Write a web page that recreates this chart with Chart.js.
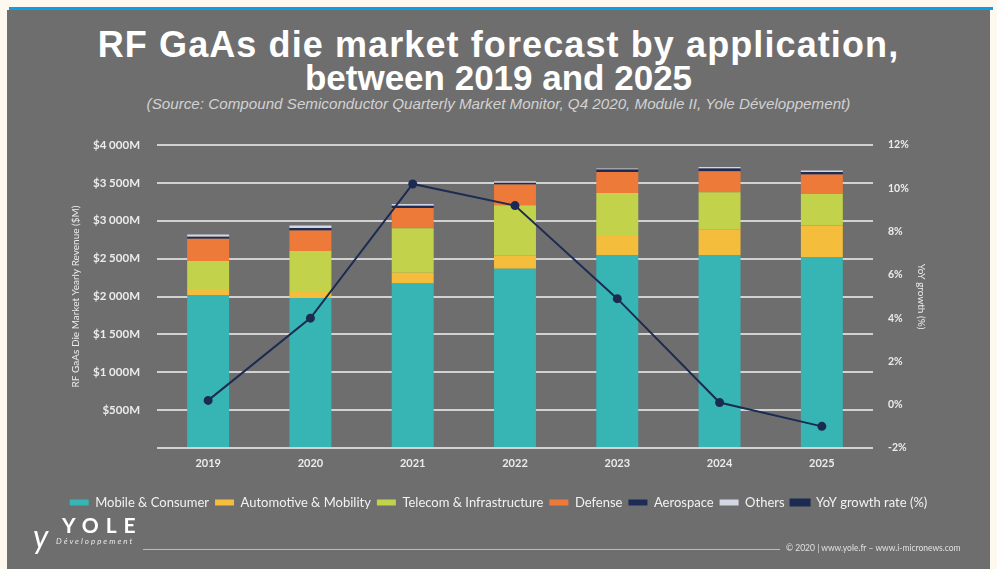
<!DOCTYPE html>
<html>
<head>
<meta charset="utf-8">
<script src="https://cdn.jsdelivr.net/npm/chart.js@4"></script>
<style>
  html, body { margin: 0; padding: 0; }
  body { width: 997px; height: 569px; background: #fdf9ee; position: relative; overflow: hidden; font-family: Lato, sans-serif; }
  #topline { position: absolute; left: 9px; top: 7px; width: 984px; height: 3px; background: #0aa0e6; }
  #panel { position: absolute; left: 7px; top: 10px; width: 983px; height: 559px; background: #6e6e6e; }
  #title { position: absolute; left: 0; top: 28px; width: 997px; text-align: center; color: #fff; font-family: 'Liberation Sans', Arial, sans-serif; font-weight: bold; line-height: 33px; }
  #title .l1 { font-size: 36px; letter-spacing: 1.1px; display: block; }
  #title .l2 { font-size: 35px; display: block; }
  #subtitle { position: absolute; left: 0; top: 95px; width: 997px; text-align: center; color: #d2d2d2; font-family: 'Liberation Sans', Arial, sans-serif; font-style: italic; font-size: 15.2px; }
  #chart { position: absolute; left: 0; top: 0; }
  #footline { position: absolute; left: 143px; top: 549px; width: 637px; height: 1px; background: #bdbdbd; }
  #copy { position: absolute; left: 786px; top: 543px; color: #e0e0e0; font-size: 8.5px; }
  #logo { position: absolute; left: 62px; top: 512px; color: #fff; font-weight: bold; font-size: 21px; letter-spacing: 7px; }
  #logo2 { position: absolute; left: 56px; top: 536px; color: #e8e8e8; font-style: italic; font-size: 8px; letter-spacing: 2px; }
  #logoy { position: absolute; left: 33px; top: 516px; color: #fff; font-size: 32px; font-style: italic; }
</style>
</head>
<body>
<div id="topline"></div>
<div id="panel"></div>
<div id="title"><span class="l1">RF GaAs die market forecast by application,</span><span class="l2">between 2019 and 2025</span></div>
<div id="subtitle">(Source: Compound Semiconductor Quarterly Market Monitor, Q4 2020, Module II, Yole Développement)</div>
<canvas id="chart" width="997" height="569"></canvas>
<div id="footline"></div>
<div id="copy">© 2020 | www.yole.fr – www.i-micronews.com</div>
<div id="logoy">y</div>
<div id="logo">YOLE</div>
<div id="logo2">Développement</div>
<script>
const years = ['2019', '2020', '2021', '2022', '2023', '2024', '2025']
// revenue in $M
const mobile = [2020, 1980, 2170, 2365, 2547, 2547, 2521]
const automotive = [65, 80, 142, 173, 253, 333, 416]
const telecom = [382, 541, 589, 665, 566, 495, 416]
const defense = [296, 269, 266, 275, 279, 279, 258]
const aerospace = [27, 34, 32, 24, 32, 36, 34]
const others = [30, 33, 21, 20, 13, 18, 19]
// YoY growth in %
const growth = [0.2, 4.0, 10.2, 9.2, 4.9, 0.1, -1.0]

const tickColor = '#ececec'

function bar (label, data, color) {
  return {
    type: 'bar',
    label,
    data,
    backgroundColor: color,
    borderWidth: 0,
    yAxisID: 'y',
    barPercentage: 0.41,
    categoryPercentage: 1
  }
}

new Chart(document.getElementById('chart'), {
  data: {
    labels: years,
    datasets: [
      bar('Mobile & Consumer', mobile, '#36b5b4'),
      bar('Automotive & Mobility', automotive, '#f5bd3c'),
      bar('Telecom & Infrastructure', telecom, '#c3d24b'),
      bar('Defense', defense, '#ee7a3a'),
      bar('Aerospace', aerospace, '#1e2b57'),
      bar('Others', others, '#d3d7e4'),
      {
        type: 'line',
        label: 'YoY growth rate (%)',
        data: growth,
        yAxisID: 'y1',
        order: -1,
        borderColor: '#1b2b52',
        backgroundColor: '#1b2b52',
        borderWidth: 2,
        pointRadius: 3.5,
        pointBackgroundColor: '#1b2b52',
        tension: 0
      }
    ]
  },
  options: {
    responsive: false,
    animation: false,
    layout: { padding: { left: 60, right: 60, top: 145, bottom: 50 } },
    plugins: {
      tooltip: { enabled: false },
      legend: {
        position: 'bottom',
        labels: {
          color: '#f2f2f2',
          font: { family: 'Lato', size: 13 },
          boxWidth: 19,
          boxHeight: 6,
          padding: 6,
          sort: (a, b) => a.datasetIndex - b.datasetIndex
        }
      }
    },
    scales: {
      x: {
        stacked: true,
        grid: { display: false },
        border: { display: false },
        ticks: { color: tickColor, font: { family: 'Lato', size: 11, weight: 'bold' }, padding: 1 },
        afterFit: (s) => { s.height = 42 }
      },
      y: {
        stacked: true,
        position: 'left',
        min: 0,
        max: 4000,
        grid: { color: '#d2d2d2', lineWidth: 2, drawTicks: false },
        border: { display: false },
        ticks: {
          stepSize: 500,
          color: tickColor,
          padding: 17,
          font: { family: 'Lato', size: 11.5, weight: 'bold' },
          callback: (v) => v === 0 ? '' : '$' + String(v).replace(/\B(?=(\d{3})+(?!\d))/g, ' ') + 'M'
        },
        title: {
          display: true,
          text: 'RF GaAs Die Market Yearly Revenue ($M)',
          color: tickColor,
          font: { family: 'Lato', size: 10 },
          padding: { top: 10, bottom: 0 }
        },
        afterFit: (s) => { s.width = 97 }
      },
      y1: {
        position: 'right',
        min: -2,
        max: 12,
        grid: { display: false },
        border: { display: false },
        ticks: {
          stepSize: 2,
          color: tickColor,
          padding: 7,
          font: { family: 'Lato', size: 10.5, weight: 'bold' },
          callback: (v) => v + '%'
        },
        title: {
          display: true,
          text: 'YoY growth (%)',
          color: tickColor,
          font: { family: 'Lato', size: 10 },
          padding: { top: 10, bottom: 0 }
        },
        afterFit: (s) => { s.width = 64 }
      }
    }
  }
})
</script>
</body>
</html>
